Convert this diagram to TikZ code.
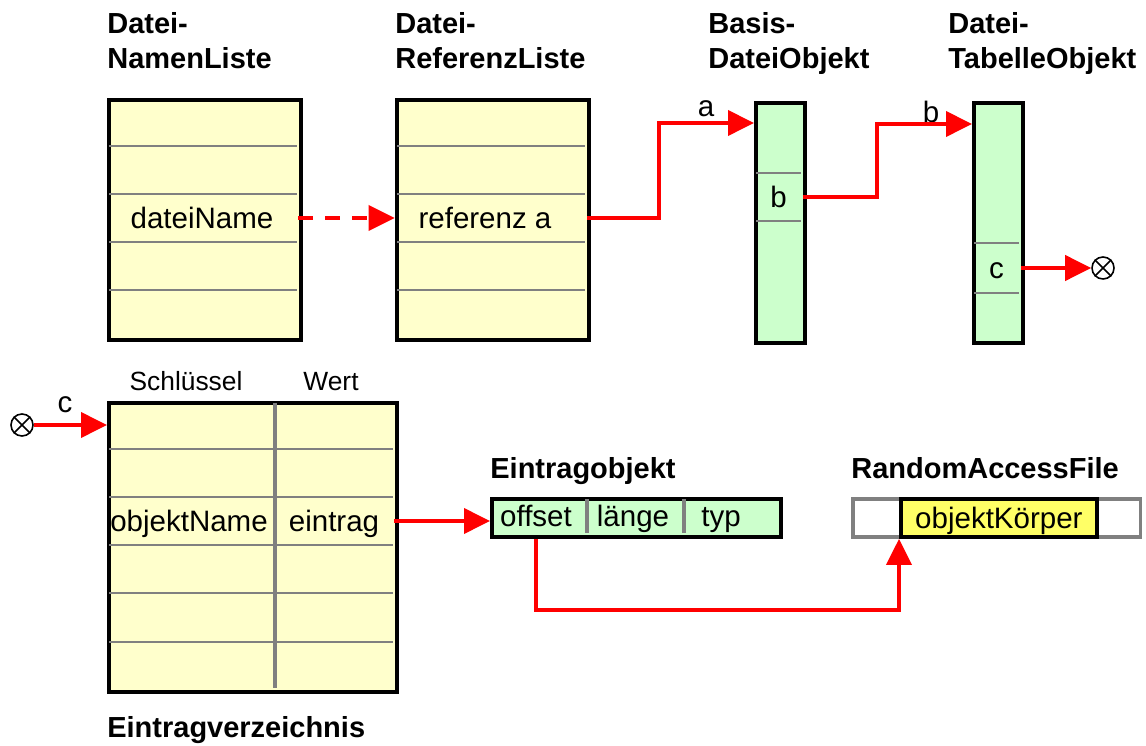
\documentclass[tikz,border=0pt]{standalone}
\usepackage{fontspec}
\setmainfont{Liberation Sans}
\usepackage{xcolor}
\definecolor{listyellow}{HTML}{FFFFCC}
\definecolor{objgreen}{HTML}{CCFFCC}
\definecolor{bodyyellow}{HTML}{FFFF66}
\definecolor{rowgray}{rgb}{0.5,0.5,0.5}
\usepackage{tikz}
\usetikzlibrary{positioning,arrows.meta}
\newcommand{\titlenode}[3]{
\node (#1) [title] at (#2) {#3};}
\tikzstyle{listbox}=[rectangle, draw=black, line width=2.2pt, fill=listyellow, inner sep=0pt,
        anchor=north west, minimum width=3.84cm, minimum height=4.8cm]
\tikzstyle{objbox}=[listbox, fill=objgreen, minimum width=0.98cm]
\tikzstyle{rowline}=[draw=rowgray, line width=1.2pt]
\tikzstyle{coldiv}=[draw=rowgray, line width=1.9pt]
\tikzstyle{title}=[font=\bfseries\fontsize{16.5}{20}\selectfont, align=left, anchor=north west, inner sep=0pt]
\tikzstyle{cell}=[font=\fontsize{16.8}{20}\selectfont, inner sep=0pt, text height=0.42cm, text depth=0pt]
\tikzstyle{small}=[font=\fontsize{15}{18}\selectfont, inner sep=0pt, text height=0.37cm, text depth=0pt]
\tikzstyle{link}=[draw=red, line width=2.2pt, -{Triangle[length=0.52cm,width=0.5cm]}]
\tikzstyle{endmark}=[circle, draw=black, line width=0.9pt, minimum size=0.44cm, inner sep=0pt]

\begin{document}
\begin{tikzpicture}[x=0.02cm, y=-0.02cm]
\useasboundingbox (0,0) rectangle (1146,746);

% titles
\titlenode{namenTitle}{107,12}{Datei-\\NamenListe}
\titlenode{refTitle}{395,12}{Datei-\\ReferenzListe}
\titlenode{basisTitle}{708,12}{Basis-\\DateiObjekt}
\titlenode{tabTitle}{948,12}{Datei-\\TabelleObjekt}
\titlenode{objTitle}{490,457}{Eintragobjekt}
\titlenode{rafTitle}{851,457}{RandomAccessFile}
\titlenode{vzTitle}{107,716}{Eintragverzeichnis}

% upper row
\node (namen) [listbox] at (107,98) {};
\node (referenz) [listbox] at (395,98) {};
\node (basis) [objbox] at (754,101) {};
\node (tabelle) [objbox] at (972,101) {};
\foreach \y in {146,194,242,290} {
  \draw[rowline] (109,\y) -- (297,\y);
  \draw[rowline] (397,\y) -- (585,\y);
}
\foreach \y in {173,221} \draw[rowline] (756,\y) -- (801,\y);
\foreach \y in {243,293} \draw[rowline] (974,\y) -- (1019,\y);

\node (nameCell) [cell, minimum width=3.84cm] at (202,218) {dateiName};
\node (refCell) [cell, minimum width=3.84cm] at (491,218) {};
\node (refText) [cell] at (485,218) {referenz a};
\node (bCell) [cell, minimum width=0.98cm] at (778.5,197) {b};
\node (cCell) [cell, minimum width=0.98cm] at (996.5,268) {c};
\node (endTab) [endmark] at (1103,268) {};
\draw[line width=0.9pt] (endTab.45) -- (endTab.225) (endTab.135) -- (endTab.315);

\node (aLabel) [cell] at (706,106) {a};
\node (bLabel) [cell] at (931,112) {b};

\draw[link, dash pattern=on 0.3cm off 0.24cm] (nameCell.east) -- (refCell.west);
\draw[link] (refCell.east) -- ++(72,0) |- ([yshift=-0.44cm]basis.north west);
\draw[link] (bCell.east) -- ++(74,0) |- ([yshift=-0.46cm]tabelle.north west);
\draw[link] (cCell.east) -- (endTab);

% lower row
\node (keyHead) [small] at (186,381) {Schlüssel};
\node (valHead) [small] at (331,381) {Wert};
\node (verzeichnis) [listbox, minimum width=5.76cm, minimum height=5.78cm] at (107,401) {};
\foreach \y in {449,497,545,593,642} \draw[rowline] (109,\y) -- (393,\y);
\draw[coldiv] (275,403) -- (275,688);
\node (keyCell) [cell] at (189,521) {objektName};
\node (valCell) [cell, minimum width=2.4cm] at (334,521) {eintrag};

\node (endVz) [endmark] at (22,425) {};
\draw[line width=0.9pt] (endVz.45) -- (endVz.225) (endVz.135) -- (endVz.315);
\node (cLabel) [cell] at (65,402) {c};
\draw[link] (endVz) -- (endVz -| verzeichnis.west);

\node (eintragobjekt) [objbox, minimum width=5.78cm, minimum height=0.76cm] at (490,497) {};
\foreach \x in {587,684} \draw[coldiv] (\x,499) -- (\x,533);
\node (offsetCell) [cell] at (536,516) {offset};
\node (laengeCell) [cell] at (633,516) {länge};
\node (typCell) [cell] at (721,516) {typ};

\node (rafFile) [rectangle, draw=rowgray, line width=2pt, anchor=north west, inner sep=0pt,
  minimum width=5.76cm, minimum height=0.76cm] at (851,497) {};
\node (body) [cell, draw=black, line width=2.2pt, fill=bodyyellow, anchor=north west,
  minimum width=3.92cm, minimum height=0.76cm] at (899,497) {objektKörper};

\draw[link] (valCell.east) -- (valCell.east -| eintragobjekt.west);
\draw[link] (offsetCell |- eintragobjekt.south) -- ++(0,71) -| (body.south west);

\end{tikzpicture}
\end{document}
